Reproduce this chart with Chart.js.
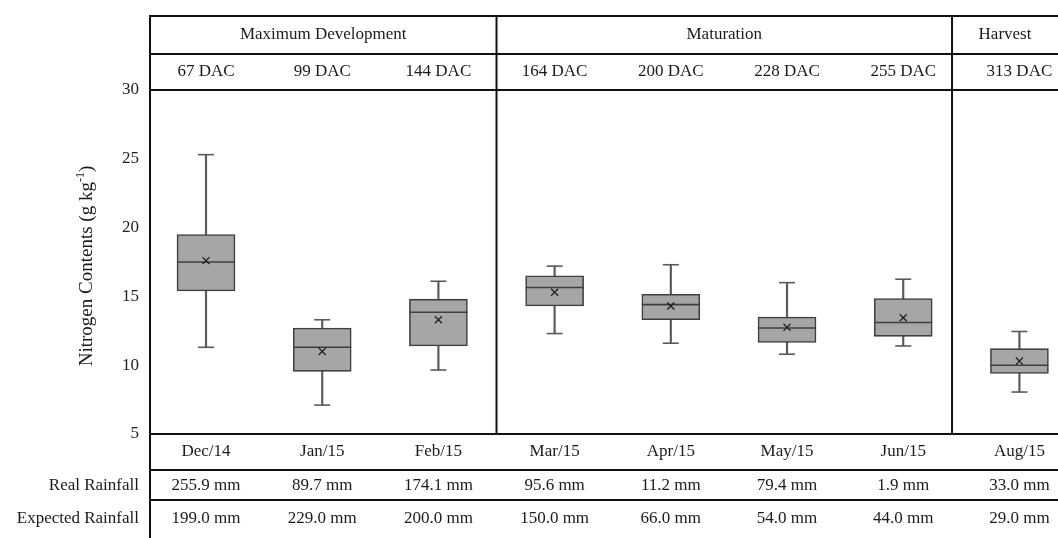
<!DOCTYPE html>
<html>
<head>
<meta charset="utf-8">
<script src="https://cdn.jsdelivr.net/npm/chart.js@4.4.1/dist/chart.umd.min.js"></script>
<style>
  html, body { margin: 0; padding: 0; background: #fff; overflow: hidden; }
  #wrap { position: relative; width: 1058px; height: 538px; }
</style>
</head>
<body>
<div id="wrap"><canvas id="chart" width="1058" height="538"></canvas></div>
<script>
// Nitrogen contents by sampling date (box plots) + rainfall table
const months = ['Dec/14', 'Jan/15', 'Feb/15', 'Mar/15', 'Apr/15', 'May/15', 'Jun/15', 'Aug/15'];
const dac = ['67 DAC', '99 DAC', '144 DAC', '164 DAC', '200 DAC', '228 DAC', '255 DAC', '313 DAC'];
const phases = ['Maximum Development', 'Maturation', 'Harvest'];
const realRainfall = ['255.9 mm', '89.7 mm', '174.1 mm', '95.6 mm', '11.2 mm', '79.4 mm', '1.9 mm', '33.0 mm'];
const expectedRainfall = ['199.0 mm', '229.0 mm', '200.0 mm', '150.0 mm', '66.0 mm', '54.0 mm', '44.0 mm', '29.0 mm'];

const whiskerLow  = [11.3,  7.1,  9.65, 12.3, 11.6, 10.8, 11.4,  8.05];
const q1          = [15.4,  9.55, 11.4, 14.3, 13.3, 11.65, 12.1, 9.4];
const median      = [17.5, 11.3, 13.85, 15.65, 14.4, 12.7, 13.1, 10.0];
const mean        = [17.6, 11.0, 13.3, 15.3, 14.3, 12.75, 13.45, 10.3];
const q3          = [19.5, 12.7, 14.8, 16.5, 15.15, 13.5, 14.85, 11.2];
const whiskerHigh = [25.3, 13.3, 16.1, 17.2, 17.3, 16.0, 16.25, 12.45];

const yTicks = [5, 10, 15, 20, 25, 30];

const SERIF = '"Liberation Serif", "Times New Roman", serif';
const X_MIN = -0.482, X_MAX = 7.332;   // right side is cropped like the original
const dividerAt = [2.5, 6.42];         // phase separators, in column units

const pts = arr => arr.map((v, i) => ({ x: i, y: v }));

const tablePlugin = {
  id: 'tableFrame',
  afterDraw(chart) {
    const { ctx, chartArea: a, scales: { x } } = chart;
    const W = chart.width, H = chart.height;
    const col = i => x.getPixelForValue(i);
    const div = dividerAt.map(v => x.getPixelForValue(v));
    ctx.save();
    ctx.strokeStyle = '#111';
    ctx.lineWidth = 2;
    const hline = y => { ctx.beginPath(); ctx.moveTo(a.left, y); ctx.lineTo(W, y); ctx.stroke(); };
    const vline = (xx, y0, y1) => { ctx.beginPath(); ctx.moveTo(xx, y0); ctx.lineTo(xx, y1); ctx.stroke(); };
    [16, 54, a.top, a.bottom, 470, 500].forEach(hline);
    vline(a.left, 15, H);
    div.forEach(d => vline(d, 15, a.bottom + 1));

    ctx.fillStyle = '#1a1a1a';
    ctx.font = '17px ' + SERIF;
    ctx.textAlign = 'center';
    ctx.textBaseline = 'middle';
    const edges = [a.left, ...div, W];
    phases.forEach((p, k) => ctx.fillText(p, (edges[k] + edges[k + 1]) / 2, 35));
    dac.forEach((t, i) => ctx.fillText(t, col(i), 72));
    months.forEach((t, i) => ctx.fillText(t, col(i), 452));
    realRainfall.forEach((t, i) => ctx.fillText(t, col(i), 486));
    expectedRainfall.forEach((t, i) => ctx.fillText(t, col(i), 519));
    ctx.textAlign = 'right';
    ctx.fillText('Real Rainfall', 139, 486);
    ctx.fillText('Expected Rainfall', 139, 519);

    // y title with superscript
    ctx.translate(87, 266);
    ctx.rotate(-Math.PI / 2);
    ctx.textAlign = 'left';
    const big = '19px ' + SERIF, small = '12px ' + SERIF;
    const parts = [['Nitrogen Contents (g kg', big, 0], ['-1', small, -6], [')', big, 0]];
    let total = 0;
    parts.forEach(p => { ctx.font = p[1]; total += ctx.measureText(p[0]).width; });
    let cx = -total / 2;
    parts.forEach(p => { ctx.font = p[1]; ctx.fillText(p[0], cx, p[2]); cx += ctx.measureText(p[0]).width; });
    ctx.restore();
  }
};

new Chart(document.getElementById('chart'), {
  type: 'bar',
  data: {
    datasets: [
      { label: 'whisker', data: months.map((m, i) => ({ x: i, y: [whiskerLow[i], whiskerHigh[i]] })),
        backgroundColor: '#5a5a5a', barThickness: 1.5, grouped: false, order: 5 },
      { label: 'box', data: months.map((m, i) => ({ x: i, y: [q1[i], q3[i]] })),
        backgroundColor: '#a6a6a6', borderColor: '#3f3f3f', borderWidth: 1.6, borderSkipped: false,
        barThickness: 58, grouped: false, order: 4 },
      { type: 'scatter', label: 'median', data: pts(median), showLine: false,
        pointStyle: 'line', pointRadius: 29, pointBorderColor: '#3f3f3f', pointBorderWidth: 1.6, order: 3 },
      { type: 'scatter', label: 'cap high', data: pts(whiskerHigh), showLine: false,
        pointStyle: 'line', pointRadius: 8, pointBorderColor: '#5a5a5a', pointBorderWidth: 1.6, order: 3 },
      { type: 'scatter', label: 'cap low', data: pts(whiskerLow), showLine: false,
        pointStyle: 'line', pointRadius: 8, pointBorderColor: '#5a5a5a', pointBorderWidth: 1.6, order: 3 },
      { type: 'scatter', label: 'mean', data: pts(mean), showLine: false,
        pointStyle: 'crossRot', pointRadius: 5, pointBorderColor: '#1f1f1f', pointBorderWidth: 1.3, order: 1 }
    ]
  },
  options: {
    responsive: false, animation: false,
    events: [],
    // the wide median markers would otherwise shrink the chart area
    layout: { autoPadding: false, padding: { top: 90, bottom: 104, left: 0, right: 0 } },
    scales: {
      x: {
        type: 'linear', min: X_MIN, max: X_MAX, offset: false, display: false,
        afterBuildTicks: s => { s.min = X_MIN; s.max = X_MAX; }
      },
      y: {
        min: yTicks[0], max: yTicks[yTicks.length - 1],
        afterFit: s => { s.width = 150; },
        afterBuildTicks: s => { s.ticks = yTicks.map(v => ({ value: v })); },
        ticks: { color: '#222', padding: 11, font: { family: SERIF, size: 17 } },
        grid: { display: false, drawTicks: false },
        border: { display: false }
      }
    },
    plugins: { legend: { display: false }, tooltip: { enabled: false } }
  },
  plugins: [tablePlugin]
});
</script>
</body>
</html>
